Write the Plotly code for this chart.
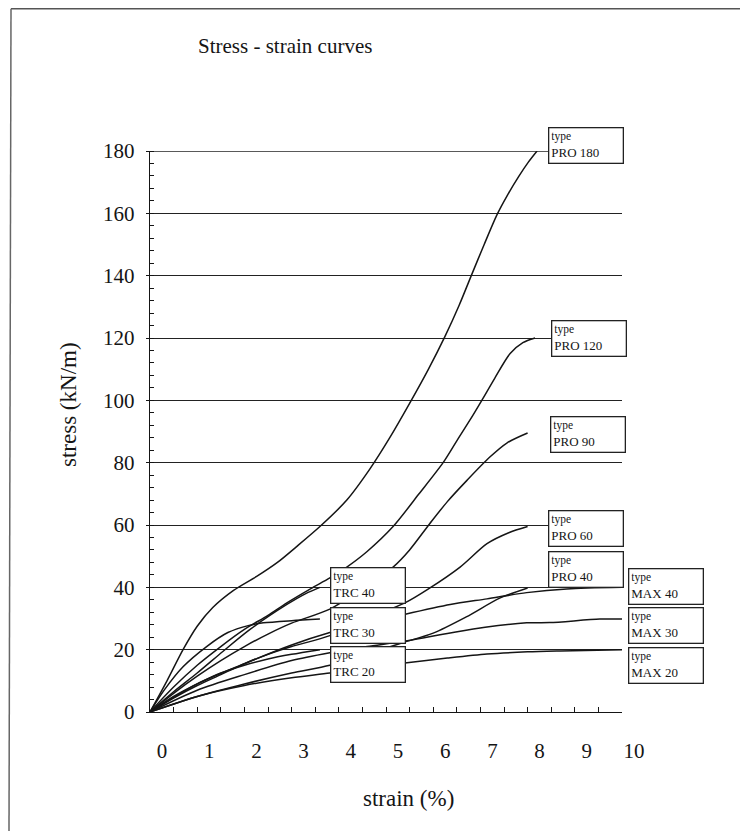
import plotly.graph_objects as go

# ---------------- data (strain %, stress kN/m) ----------------
pro180_x = [0, 0.36, 0.7, 1.0, 1.33, 1.77, 2.26, 2.7, 3.1, 3.6, 4.17, 4.66, 5.08, 5.5, 5.9, 6.25, 6.55, 6.82, 7.08, 7.35, 7.58, 7.82, 8.02, 8.2]
pro180_y = [0, 10, 20, 27.5, 33.5, 39, 43.5, 48, 53, 59.5, 68, 78, 88, 99, 110, 120.5, 130.5, 140.5, 150, 159.5, 166, 172, 176.5, 180]

pro120_x = [0, 0.5, 1.0, 1.5, 2.0, 2.5, 2.9, 3.4, 3.81, 4.17, 4.6, 5.15, 5.7, 6.21, 6.5, 6.78, 7.03, 7.3, 7.63, 7.9, 8.16]
pro120_y = [0, 8, 15, 21, 26.5, 31, 35, 39.5, 43, 46.5, 51.5, 59.5, 70, 80, 87, 93.7, 100, 107, 115, 118.5, 120]

pro90_x = [0, 0.5, 1.0, 1.5, 2.0, 2.5, 3.0, 3.81, 4.5, 5.15, 5.5, 5.93, 6.3, 6.72, 7.2, 7.56, 8.0]
pro90_y = [0, 6, 11.5, 16.5, 21, 25, 28.5, 33, 39.5, 46.5, 52, 60.5, 67.5, 74.4, 81.8, 86.3, 89.5]

pro60_x = [0, 0.5, 1.0, 1.5, 2.0, 2.5, 3.0, 3.81, 4.6, 5.4, 5.9, 6.57, 7.14, 7.6, 8.0]
pro60_y = [0, 4.5, 8.5, 12, 15.5, 18.5, 21, 24.5, 30, 35, 39.5, 46.5, 54, 57.5, 59.5]

pro40_x = [0, 1.0, 2.0, 3.0, 3.81, 4.6, 5.3, 6.0, 6.7, 7.42, 8.0]
pro40_y = [0, 5, 9, 12.5, 15, 18.5, 22, 25.3, 30.5, 36.6, 39.8]

max40_x = [0, 1.0, 2.0, 3.0, 3.81, 4.6, 5.3, 6.36, 7.14, 7.98, 8.83, 10.0]
max40_y = [0, 9, 15.5, 21.5, 25.5, 28.5, 31, 34.5, 36.3, 38.3, 39.5, 40]

max30_x = [0, 1.0, 2.0, 3.0, 3.81, 4.6, 5.3, 6.3, 7.1, 7.98, 8.47, 9.53, 10.0]
max30_y = [0, 7, 12, 16.5, 19, 21, 22.5, 25.2, 27.2, 28.6, 28.7, 29.8, 29.8]

max20_x = [0, 1.0, 2.0, 3.0, 3.81, 4.6, 5.4, 6.3, 7.14, 8.0, 8.7, 10.0]
max20_y = [0, 5, 8.5, 11, 12.5, 14.2, 15.7, 17.3, 18.6, 19.3, 19.6, 20]

trc40_x = [0, 0.5, 1.0, 1.55, 2.12, 2.9, 3.3, 3.6]
trc40_y = [0, 6.5, 12.5, 19.5, 26.5, 34.5, 38, 40]

trc30_x = [0, 0.3, 0.7, 1.2, 1.65, 2.1, 2.4, 3.0, 3.6]
trc30_y = [0, 7, 14.5, 21, 25.5, 27.8, 28.6, 29.3, 29.8]

trc20_x = [0, 0.5, 1.0, 1.5, 2.0, 2.5, 3.0, 3.6]
trc20_y = [0, 5, 9, 12.5, 15, 17, 18.5, 20]

series_names = ["PRO 180", "PRO 120", "PRO 90", "PRO 60", "PRO 40",
                "MAX 40", "MAX 30", "MAX 20", "TRC 40", "TRC 30", "TRC 20"]
series_x = [pro180_x, pro120_x, pro90_x, pro60_x, pro40_x,
            max40_x, max30_x, max20_x, trc40_x, trc30_x, trc20_x]
series_y = [pro180_y, pro120_y, pro90_y, pro60_y, pro40_y,
            max40_y, max30_y, max20_y, trc40_y, trc30_y, trc20_y]

x_tick_vals = list(range(0, 11))
x_tick_text = [str(v) for v in x_tick_vals]
y_tick_vals = list(range(0, 181, 20))
X_RANGE = [0, 10]
Y_RANGE = [0, 180]

# ---------------- label box placement (layout only, in strain/stress units) ----------------
label_pos = {
    "PRO 180": (8.43, 181.9), "PRO 120": (8.5, 119.8), "PRO 90": (8.47, 88.9),
    "PRO 60": (8.43, 59.0), "PRO 40": (8.43, 45.7),
    "MAX 40": (10.13, 40.3), "MAX 30": (10.13, 27.8), "MAX 20": (10.13, 14.8),
    "TRC 40": (3.81, 40.6), "TRC 30": (3.81, 27.9), "TRC 20": (3.81, 15.2),
}

SERIF = "Liberation Serif, Times New Roman, serif"
INK = "#151515"

# figure geometry (page body has an 8px margin)
W, H = 732, 823
ML, MT, PW, PH = 142, 143, 472, 561
MR, MB = W - ML - PW, H - MT - PH


def px_to_paper(fx, fy):
    return (fx - ML) / PW, (MT + PH - fy) / PH


fig = go.Figure()
for name, xs, ys in zip(series_names, series_x, series_y):
    fig.add_trace(go.Scatter(
        x=xs, y=ys, mode="lines", name=name,
        line=dict(color=INK, width=1.5, shape="spline", smoothing=0.8),
        showlegend=False, hoverinfo="skip"))

annotations = []
for name in series_names:
    lx, ly = label_pos[name]
    annotations.append(dict(
        x=(lx - X_RANGE[0]) / (X_RANGE[1] - X_RANGE[0]),
        y=(ly - Y_RANGE[0]) / (Y_RANGE[1] - Y_RANGE[0]),
        xref="paper", yref="paper", xanchor="left", yanchor="middle",
        text="<span style='font-size:11.5px'>type</span><br>" + name,
        showarrow=False, align="left", width=69, height=30,
        bgcolor="white", bordercolor="#222", borderwidth=1.3, borderpad=2,
        font=dict(family=SERIF, size=13, color=INK)))

yt_x, yt_y = px_to_paper(60, 397)
annotations.append(dict(x=yt_x, y=yt_y, xref="paper", yref="paper", text="stress (kN/m)",
                        showarrow=False, textangle=-90, xanchor="center", yanchor="middle",
                        font=dict(family=SERIF, size=23, color=INK)))
xt_x, xt_y = px_to_paper(400, 790)
annotations.append(dict(x=xt_x, y=xt_y, xref="paper", yref="paper", text="strain (%)",
                        showarrow=False, xanchor="center", yanchor="middle",
                        font=dict(family=SERIF, size=23, color=INK)))

fl_x, _ = px_to_paper(3, 0)
fl_x2, _ = px_to_paper(1, 0)
_, ft_y = px_to_paper(0, 0.8)
fr_x, _ = px_to_paper(W, 0)
_, fb_y = px_to_paper(0, H)

shapes = [
    # top gridline at 180 (plotly skips the grid line on the range edge)
    dict(type="line", xref="paper", yref="y", x0=0, x1=1, y0=180, y1=180,
         line=dict(color="#222", width=1.3), layer="below"),
    # page frame of the scanned figure
    dict(type="line", xref="paper", yref="paper", x0=fl_x, x1=fr_x, y0=ft_y, y1=ft_y,
         line=dict(color="#555", width=1.5)),
    dict(type="line", xref="paper", yref="paper", x0=fl_x, x1=fl_x2, y0=ft_y, y1=fb_y,
         line=dict(color="#666", width=1.5)),
]

fig.update_layout(
    width=W, height=H,
    margin=dict(l=ML, r=MR, t=MT, b=MB, autoexpand=False),
    paper_bgcolor="white", plot_bgcolor="white",
    font=dict(family=SERIF, size=21, color=INK),
    title=dict(text="Stress - strain curves", x=190 / W, xanchor="left", xref="container",
               y=1 - 38 / H, yanchor="middle", yref="container",
               font=dict(family=SERIF, size=21, color=INK)),
    xaxis=dict(range=X_RANGE, tickvals=x_tick_vals, ticktext=x_tick_text,
               ticks="inside", ticklen=5, tickwidth=1, tickcolor=INK,
               minor=dict(dtick=0.5, ticks="inside", ticklen=5, tickwidth=1, tickcolor=INK),
               showline=True, linecolor=INK, linewidth=1.4, showgrid=False, zeroline=False,
               ticklabelshift=12, ticklabelstandoff=20,
               tickfont=dict(family=SERIF, size=21, color=INK), fixedrange=True),
    yaxis=dict(range=Y_RANGE, tickvals=y_tick_vals,
               ticks="outside", ticklen=3, tickwidth=1, tickcolor=INK,
               minor=dict(dtick=4, ticks="inside", ticklen=4, tickwidth=1, tickcolor=INK),
               showline=True, linecolor=INK, linewidth=1.4,
               showgrid=True, gridcolor="#222", gridwidth=1.3, zeroline=False,
               ticklabelstandoff=7,
               tickfont=dict(family=SERIF, size=21, color=INK), fixedrange=True),
    annotations=annotations,
    shapes=shapes,
)

fig.write_html("out.html")
